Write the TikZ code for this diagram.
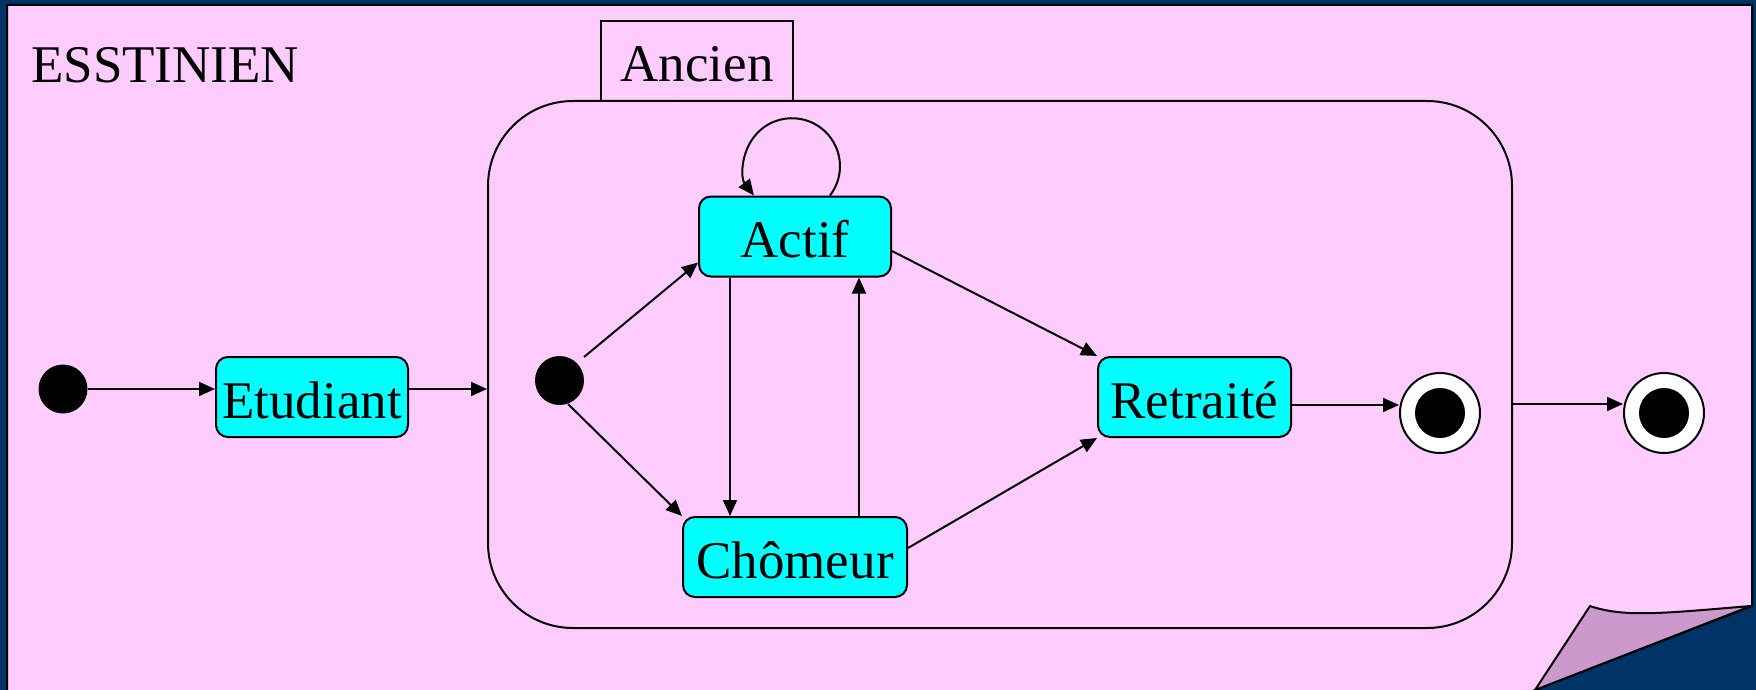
\documentclass[tikz,border=0pt]{standalone}
\usepackage{fontspec}
\setmainfont{Liberation Serif}
\usetikzlibrary{arrows.meta}
\definecolor{navy}{RGB}{0,51,102}
\definecolor{pagepink}{RGB}{255,204,255}
\definecolor{foldpink}{RGB}{204,153,204}
\definecolor{statecyan}{RGB}{0,255,255}

\begin{document}
\begin{tikzpicture}[x=1pt,y=-1pt,
  lbl/.style={font=\fontsize{53}{60}\selectfont},
  state/.style={draw, line width=2pt, fill=statecyan, rounded corners=12pt,
    minimum height=80pt, inner sep=0pt, text height=42pt, text depth=0pt, lbl},
  startdot/.style={circle, fill=black, minimum size=49pt, inner sep=0pt},
  enddot/.style={circle, draw, line width=2pt, fill=white, minimum size=80pt, inner sep=0pt},
  arr/.style={line width=2pt, -{Triangle[length=16pt,width=14pt]}},
  edgeline/.style={line width=2pt, line join=round}
]
\useasboundingbox (0,0) rectangle (1756,690);

% backdrop and sheet with its turned-up corner
\fill[navy] (0,0) rectangle (1756,690);
\filldraw[fill=pagepink, edgeline] (7,720) -- (7,5) -- (1752,5) -- (1752,606) -- (1509,700) -- cycle;
\filldraw[fill=foldpink, edgeline] (1590,606) .. controls (1625,618) and (1665,613) .. (1751,606)
  -- (1535,690) -- cycle;

% title
\node[lbl, anchor=base west, inner sep=0pt] (title) at (31,83) {ESSTINIEN};

% composite state
\node[draw, line width=2pt, rounded corners=85pt, minimum width=1024pt, minimum height=527pt,
  inner sep=0pt] (ancien) at (1000,364.5) {};
\node[draw, line width=2pt, minimum width=192pt, minimum height=80pt, inner sep=0pt,
  text height=42pt, text depth=0pt, lbl] (tab) at (697,61) {Ancien};

% states
\node[startdot] (init) at (63,389) {};
\node[state, minimum width=192pt] (etudiant) at (312,397) {Etudiant};
\node[startdot] (idot) at (559.5,380.5) {};
\node[state, minimum width=192pt] (actif) at (795,236.5) {Actif};
\node[state, minimum width=224pt] (chomeur) at (795,557) {Chômeur};
\node[state, minimum width=193pt] (retraite) at (1194.5,397) {Retraité};
\node[enddot] (fin1) at (1440,413) {};
\fill (fin1.center) circle[radius=25pt];
\node[enddot] (fin2) at (1664,413) {};
\fill (fin2.center) circle[radius=25pt];

% transitions
\draw[arr] (init) -- (init -| etudiant.west);
\draw[arr] (etudiant.east |- init) -- (ancien.west |- init);
\draw[arr] ([xshift=24.5pt,yshift=23.5pt]idot.center) -- ([yshift=15pt]actif.south west);
\draw[arr] ([xshift=8.5pt,yshift=-23.5pt]idot.center) -- (chomeur.north west);
\draw[arr] ([xshift=-65pt]actif.south) -- ([xshift=-65pt]actif.south |- chomeur.north);
\draw[arr] ([xshift=64pt]actif.south |- chomeur.north) -- ([xshift=64pt]actif.south);
\draw[arr] ([xshift=35pt]actif.north) arc[start angle=-37.6, end angle=217.6, radius=48pt];
\draw[arr] ([yshift=-14.5pt]actif.east) -- (retraite.north west);
\draw[arr] ([yshift=9pt]chomeur.east) -- (retraite.south west);
\draw[arr] ([yshift=-8pt]retraite.east) -- ([yshift=8pt]fin1.west);
\draw[arr] ([yshift=9pt]ancien.east |- fin2.west) -- ([yshift=9pt]fin2.west);
\end{tikzpicture}
\end{document}
